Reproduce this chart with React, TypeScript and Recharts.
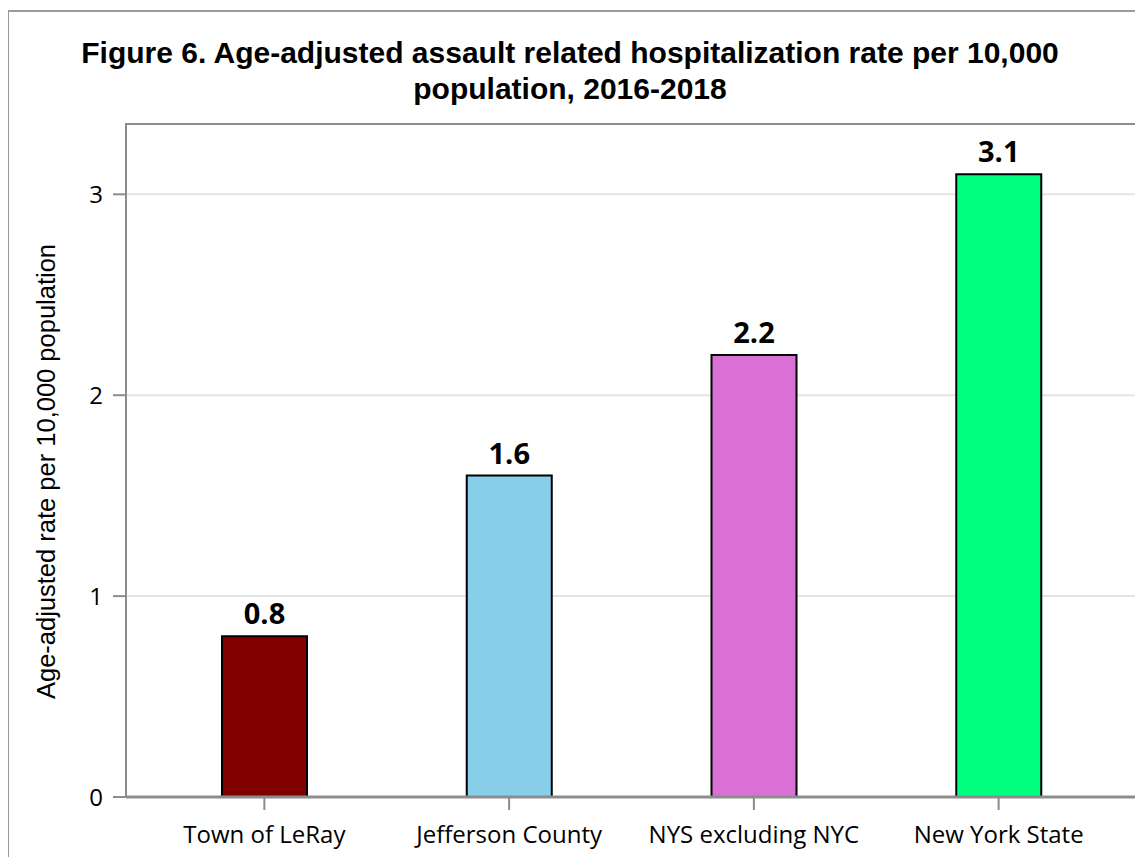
import React from 'react';
import { BarChart, Bar, XAxis, YAxis, CartesianGrid, LabelList, Cell } from 'recharts';

const areas = ['Town of LeRay', 'Jefferson County', 'NYS excluding NYC', 'New York State'];
const rates = [0.8, 1.6, 2.2, 3.1];
const barColors = ['#800000', '#87ceeb', '#da70d6', '#00ff7f'];
const yTicks = [0, 1, 2, 3];

const titleLines = [
    'Figure 6. Age-adjusted assault related hospitalization rate per 10,000',
    'population, 2016-2018',
];
const yLabel = 'Age-adjusted rate per 10,000 population';

const data = areas.map((name, i) => ({ name, rate: rates[i] }));

const tickFont = '"Open Sans", "Noto Sans", sans-serif';
const axisGray = '#8c8c8c';

const YAxisLabel = (props: any) => {
    const vb = props.viewBox || { x: 0, y: 116, width: 118, height: 673 };
    const cx = 38;
    const cy = vb.y + vb.height / 2 + 11;
    return (
        <text
            x={cx}
            y={cy}
            transform={`rotate(-90 ${cx} ${cy})`}
            textAnchor="middle"
            dominantBaseline="central"
            fontFamily='"Liberation Sans", Arial, sans-serif'
            fontSize={25.5}
            fill="#000"
        >
            {yLabel}
        </text>
    );
};

export default function App() {
    return (
        <div style={{ position: 'relative', width: 1135, height: 849, overflow: 'hidden' }}>
            {/* outer frame, only top and left edges are visible */}
            <div
                style={{
                    position: 'absolute',
                    left: -1,
                    top: 2,
                    right: -10,
                    bottom: -10,
                    borderTop: '2px solid #9a9a9a',
                    borderLeft: '2px solid #9a9a9a',
                }}
            />
            <svg
                width={1135}
                height={110}
                style={{ position: 'absolute', left: 0, top: 0 }}
            >
                {titleLines.map((line, i) => (
                    <text
                        key={i}
                        x={562}
                        y={54.5 + i * 36}
                        textAnchor="middle"
                        fontFamily='"Liberation Sans", Arial, sans-serif'
                        fontWeight="bold"
                        fontSize={30}
                        fill="#000"
                    >
                        {line}
                    </text>
                ))}
            </svg>
            <div style={{ position: 'absolute', left: 0, top: 0 }}>
                <BarChart
                    width={1135}
                    height={849}
                    data={data}
                    margin={{ top: 116, right: 6, left: 0, bottom: 0 }}
                    barSize={85}
                >
                    <CartesianGrid vertical={false} stroke="#e4e4e4" strokeWidth={2} />
                    <XAxis
                        dataKey="name"
                        height={60}
                        padding={{ left: 16, right: 16 }}
                        tickSize={13}
                        tickMargin={16}
                        tickLine={{ stroke: axisGray, strokeWidth: 2 }}
                        axisLine={{ stroke: axisGray, strokeWidth: 3 }}
                        tick={{ fontFamily: tickFont, fontSize: 24, fill: '#000' }}
                        interval={0}
                    />
                    <YAxis
                        width={118}
                        domain={[0, 3.35]}
                        ticks={yTicks}
                        allowDataOverflow
                        tickSize={13}
                        tickMargin={10}
                        tickLine={{ stroke: axisGray, strokeWidth: 2 }}
                        axisLine={{ stroke: axisGray, strokeWidth: 2 }}
                        tick={{ fontFamily: tickFont, fontSize: 24, fill: '#000' }}
                        label={{ content: <YAxisLabel /> }}
                    />
                    <Bar dataKey="rate" stroke="#000" strokeWidth={2} isAnimationActive={false}>
                        {data.map((d, i) => (
                            <Cell key={d.name} fill={barColors[i]} />
                        ))}
                        <LabelList
                            dataKey="rate"
                            position="top"
                            offset={12}
                            fontFamily={tickFont}
                            fontWeight="bold"
                            fontSize={29}
                            fill="#000"
                        />
                    </Bar>
                </BarChart>
            </div>
            {/* plot frame: top and right edges */}
            <div
                style={{
                    position: 'absolute',
                    left: 117,
                    top: 115,
                    width: 1013,
                    height: 674,
                    boxSizing: 'border-box',
                    borderTop: `2px solid ${axisGray}`,
                    borderRight: `2px solid ${axisGray}`,
                    pointerEvents: 'none',
                }}
            />
        </div>
    );
}
